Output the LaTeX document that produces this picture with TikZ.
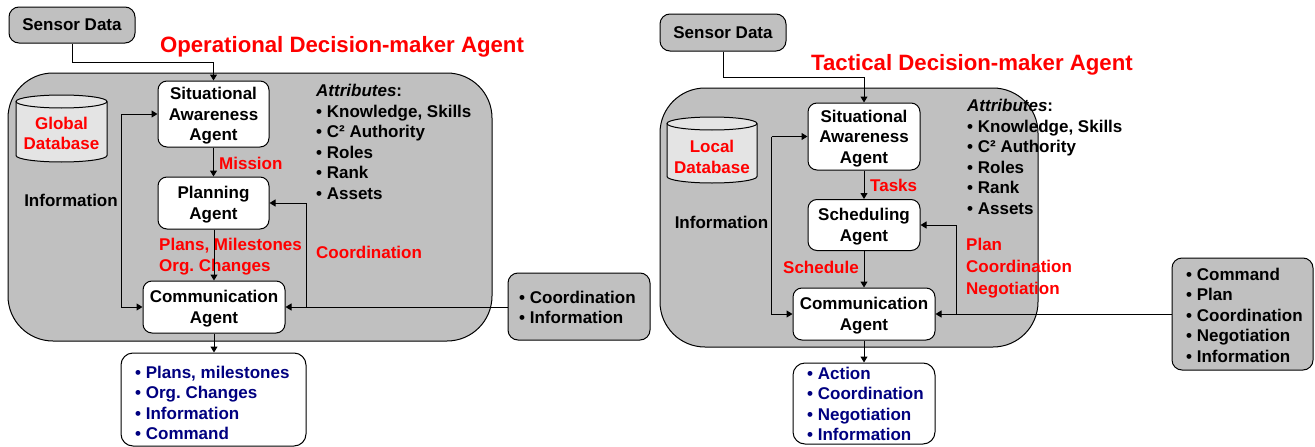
\documentclass[tikz,border=0pt]{standalone}
\usepackage{fontspec}
\setmainfont{Liberation Sans}
\usetikzlibrary{arrows.meta,calc}

\definecolor{panelgray}{HTML}{C0C0C0}
\definecolor{dbgray}{HTML}{E4E4E4}
\definecolor{listnavy}{HTML}{000080}
\definecolor{lblred}{HTML}{FF0000}

\newcommand{\bodyfont}{\fontsize{17}{20.6}\selectfont\bfseries}
\newcommand{\widefont}{\fontsize{17}{22}\selectfont\bfseries}
\newcommand{\titlefont}{\fontsize{22.2}{26}\selectfont\bfseries}

\tikzset{
  x=1pt, y=-1pt,
  conn/.style={line width=1pt, -{Triangle[length=6pt,width=7pt]}},
  panel/.style={draw, line width=1pt, fill=panelgray, rounded corners=45pt, inner sep=0pt},
  agentbox/.style={draw, line width=1pt, fill=white, rounded corners=9pt, align=center,
    font=\bodyfont, inner sep=0pt, text depth=0pt},
  graybox/.style={draw, line width=1pt, fill=panelgray, rounded corners=10pt, align=center,
    font=\bodyfont, inner sep=0pt, text depth=0pt},
  outbox/.style={draw, line width=1pt, fill=white, rounded corners=12pt, inner sep=0pt},
  listtext/.style={font=\bodyfont, inner sep=0pt, align=left, anchor=north west},
  redlbl/.style={text=lblred, font=\bodyfont, inner sep=0pt, align=left},
  blacklbl/.style={font=\bodyfont, inner sep=0pt, align=left},
  titlelbl/.style={text=lblred, font=\titlefont, inner sep=0pt},
  dbtext/.style={text=lblred, font=\bodyfont, inner sep=0pt, align=center},
}

% cylinder: #1 left, #2 right, #3 top, #4 bottom, #5 ellipse half height
\newcommand{\dbcyl}[5]{%
  \pgfmathsetmacro{\cxm}{(#1+#2)/2}%
  \pgfmathsetmacro{\crx}{(#2-#1)/2}%
  \pgfmathsetmacro{\ctop}{#3+#5}%
  \pgfmathsetmacro{\cbot}{#4-#5}%
  \fill[dbgray] (#1,\ctop) -- (#1,\cbot) arc[start angle=180, end angle=360, x radius=\crx, y radius=-#5]
     -- (#2,\ctop) arc[start angle=0, end angle=180, x radius=\crx, y radius=-#5] -- cycle;
  \draw[line width=1pt] (#1,\ctop) -- (#1,\cbot) arc[start angle=180, end angle=360, x radius=\crx, y radius=-#5]
     -- (#2,\ctop);
  \draw[line width=1pt] (\cxm,\ctop) ellipse[x radius=\crx, y radius=#5];
}

\frenchspacing
\begin{document}
\begin{tikzpicture}
\useasboundingbox (0,0) rectangle (1315,447);

% ---------------- Operational decision-maker ----------------
\node[panel, minimum width=484pt, minimum height=268pt] (op) at (250,207) {};
\node[titlelbl] (optitle) at (342,47) {Operational Decision-maker Agent};
\node[graybox, minimum width=126pt, minimum height=36pt] (sens1) at (72,25) {Sensor Data};

\dbcyl{16}{107}{95}{162}{6.5}
\node[dbtext] (gdb) at (61.5,133.5) {Global\\Database};

\node[agentbox, minimum width=111pt, minimum height=66pt] (sa1) at (213.5,114) {Situational\\Awareness\\Agent};
\node[agentbox, minimum width=111pt, minimum height=52pt] (plan1) at (213.5,203) {Planning\\Agent};
\node[agentbox, minimum width=142pt, minimum height=52pt] (comm1) at (214,307) {Communication\\Agent};

\node[blacklbl, anchor=north west] (attr1) at (316,84)
  {\textit{Attributes}:\\• Knowledge, Skills\\• C² Authority\\• Roles\\• Rank\\• Assets};

\node[blacklbl] (info1) at (71,200) {Information};
\node[redlbl, anchor=west] (mission) at (219,163) {Mission};
\node[redlbl, anchor=west] (plans) at (159,256.5) {Plans, Milestones\\Org. Changes};
\node[redlbl, anchor=west] (coord1) at (316,252) {Coordination};

\node[graybox, minimum width=142pt, minimum height=67pt] (ext1) at (579,306.5) {};
\node[listtext] (ext1txt) at (519,290.6) {• Coordination\\• Information};

\node[outbox, minimum width=185pt, minimum height=93pt] (out1) at (213.5,399.5) {};
\node[listtext, text=listnavy] (out1txt) at (135,365.6)
  {• Plans, milestones\\• Org. Changes\\• Information\\• Command};

% connectors
\draw[conn] (sens1.south) -- ++(0,19) -| (sa1.north);
\draw[conn] (sa1.south) -- (plan1.north);
\draw[conn] (plan1.south -| comm1.north) -- (comm1.north);
\coordinate (l1) at ($(sa1.west)+(-36,0)$);
\draw[conn] (l1) -- (sa1.west);
\draw[conn] (l1) |- (comm1.west);
\draw[conn] (ext1.west |- comm1.east) -- (comm1.east);
\coordinate (r1) at ($(comm1.east)+(21,0)$);
\draw[conn] (r1) |- (plan1.east);
\draw[conn] (comm1.south) -- (out1.north -| comm1.south);

% ---------------- Tactical decision-maker ----------------
\node[panel, minimum width=378pt, minimum height=259pt] (tac) at (849,217.5) {};
\node[titlelbl] (tactitle) at (972,65) {Tactical Decision-maker Agent};
\node[graybox, minimum width=126pt, minimum height=37pt] (sens2) at (723,32.5) {Sensor Data};

\dbcyl{667}{757}{117}{183}{6.5}
\node[dbtext] (ldb) at (712,157) {Local\\Database};

\node[agentbox, minimum width=112pt, minimum height=67pt] (sa2) at (864,136.5) {Situational\\Awareness\\Agent};
\node[agentbox, minimum width=112pt, minimum height=51pt] (sched2) at (864,225) {Scheduling\\Agent};
\node[agentbox, minimum width=142pt, minimum height=52pt] (comm2) at (864,314) {Communication\\Agent};

\node[blacklbl, anchor=north west] (attr2) at (967,99)
  {\textit{Attributes}:\\• Knowledge, Skills\\• C² Authority\\• Roles\\• Rank\\• Assets};

\node[blacklbl] (info2) at (721.5,222) {Information};
\node[redlbl, anchor=west] (tasks) at (870,185) {Tasks};
\node[redlbl, anchor=west] (schedule) at (783,267) {Schedule};
\node[redlbl, anchor=west, font=\widefont] (pcn) at (966,268) {Plan\\Coordination\\Negotiation};

\node[graybox, minimum width=141pt, minimum height=112pt] (ext2) at (1242.5,314) {};
\node[listtext] (ext2txt) at (1186,267.6)
  {• Command\\• Plan\\• Coordination\\• Negotiation\\• Information};

\node[outbox, minimum width=142pt, minimum height=81pt] (out2) at (864,403.5) {};
\node[listtext, text=listnavy] (out2txt) at (807,366.6)
  {• Action\\• Coordination\\• Negotiation\\• Information};

% connectors
\draw[conn] (sens2.south) -- ++(0,26) -| (sa2.north);
\draw[conn] (sa2.south) -- (sched2.north);
\draw[conn] (sched2.south) -- (comm2.north);
\coordinate (l2) at ($(sa2.west)+(-36,0)$);
\draw[conn] (l2) -- (sa2.west);
\draw[conn] (l2) |- (comm2.west);
\draw[conn] (ext2.west |- comm2.east) -- (comm2.east);
\coordinate (r2) at ($(comm2.east)+(21,0)$);
\draw[conn] (r2) |- (sched2.east);
\draw[conn] (comm2.south) -- (out2.north);
\end{tikzpicture}
\end{document}
